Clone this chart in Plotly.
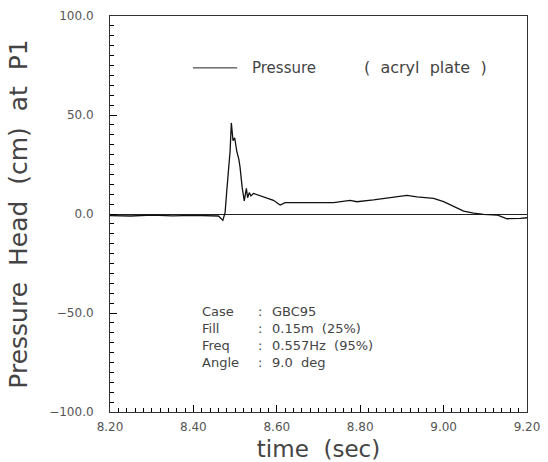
import plotly.graph_objects as go

# time (sec) and pressure head (cm) at P1
time_sec = [8.200, 8.250, 8.300, 8.350, 8.400, 8.440, 8.460, 8.4706, 8.476, 8.480,
            8.485, 8.488, 8.491, 8.495, 8.499, 8.504, 8.509, 8.512, 8.517, 8.522,
            8.527, 8.530, 8.534, 8.538, 8.544, 8.560, 8.576, 8.592, 8.608, 8.620,
            8.656, 8.696, 8.736, 8.776, 8.792, 8.832, 8.872, 8.912, 8.936, 8.976,
            9.000, 9.024, 9.048, 9.072, 9.096, 9.128, 9.152, 9.184, 9.200]
pressure_cm = [-0.8, -1.0, -0.6, -0.9, -0.7, -0.9, -1.0, -3.2, 0.7, 11.6,
               23.4, 31.8, 46.0, 37.0, 38.5, 31.8, 27.6, 23.4, 13.3, 6.6,
               13.0, 8.2, 10.8, 9.1, 10.4, 9.1, 7.9, 6.9, 4.5, 5.7,
               5.7, 5.7, 5.7, 6.9, 6.2, 7.1, 8.2, 9.4, 8.6, 7.9,
               6.2, 3.7, 1.5, 0.4, -0.2, -0.5, -2.4, -2.2, -1.9]

info_labels = ["Case", "Fill", "Freq", "Angle"]
info_values = ["GBC95", "0.15m  (25%)", "0.557Hz  (95%)", "9.0  deg"]

FONT = "DejaVu Sans"
fig = go.Figure()
fig.add_trace(go.Scatter(x=time_sec, y=pressure_cm, mode="lines",
                         line=dict(color="#111", width=1.3), showlegend=False))

fig.update_layout(
    width=548, height=462,
    margin=dict(l=110, r=21, t=16, b=50),
    paper_bgcolor="white", plot_bgcolor="white",
)
fig.update_xaxes(
    automargin=False,
    range=[8.2, 9.2], dtick=0.2, tick0=8.2, tickformat=".2f",
    ticks="inside", ticklen=7, tickcolor="black", tickwidth=1,
    minor=dict(ticks="inside", ticklen=4, tickcolor="black", tickwidth=1, dtick=0.02),
    showline=True, linecolor="#333", mirror=True,
    gridcolor="rgba(0,0,0,0)", zeroline=False,
    tickfont=dict(family=FONT, size=12, color="#555"), ticklabelstandoff=4,
    title=dict(text="time  (sec)", font=dict(family=FONT, size=23, color="#444"), standoff=8),
)
fig.update_yaxes(
    automargin=False,
    range=[-100, 100], dtick=50, tick0=0, tickformat=".1f",
    ticks="inside", ticklen=7, tickcolor="black", tickwidth=1,
    minor=dict(ticks="inside", ticklen=4, tickcolor="black", tickwidth=1, dtick=5),
    showline=True, linecolor="#333", mirror=True,
    gridcolor="rgba(0,0,0,0)", zeroline=True, zerolinecolor="#222", zerolinewidth=1,
    tickfont=dict(family=FONT, size=12, color="#555"), ticklabelstandoff=13,
    title=dict(text="Pressure  Head  (cm)  at  P1", font=dict(family=FONT, size=25, color="#444"), standoff=14),
)

# legend-like key
fig.add_shape(type="line", xref="paper", yref="paper", x0=0.199, x1=0.305, y0=0.869, y1=0.869,
              line=dict(color="#222", width=1))
fig.add_annotation(xref="paper", yref="paper", x=0.336, y=0.869, xanchor="left", yanchor="middle",
                   text="Pressure", showarrow=False, font=dict(family=FONT, size=15, color="#444"))
fig.add_annotation(xref="paper", yref="paper", x=0.604, y=0.869, xanchor="left", yanchor="middle",
                   text="(  acryl  plate  )", showarrow=False, font=dict(family=FONT, size=16, color="#444"))

# info block: three columns, each one multi-line annotation
block_y = 0.189
col_font = dict(family=FONT, size=13, color="#444")
fig.add_annotation(xref="paper", yref="paper", x=0.216, y=block_y, xanchor="left", yanchor="middle",
                   align="left", text="<br>".join(info_labels), showarrow=False, font=col_font)
fig.add_annotation(xref="paper", yref="paper", x=0.35, y=block_y, xanchor="left", yanchor="middle",
                   align="left", text="<br>".join([":"] * len(info_labels)), showarrow=False, font=col_font)
fig.add_annotation(xref="paper", yref="paper", x=0.384, y=block_y, xanchor="left", yanchor="middle",
                   align="left", text="<br>".join(info_values), showarrow=False, font=col_font)

fig.write_html("out.html")
